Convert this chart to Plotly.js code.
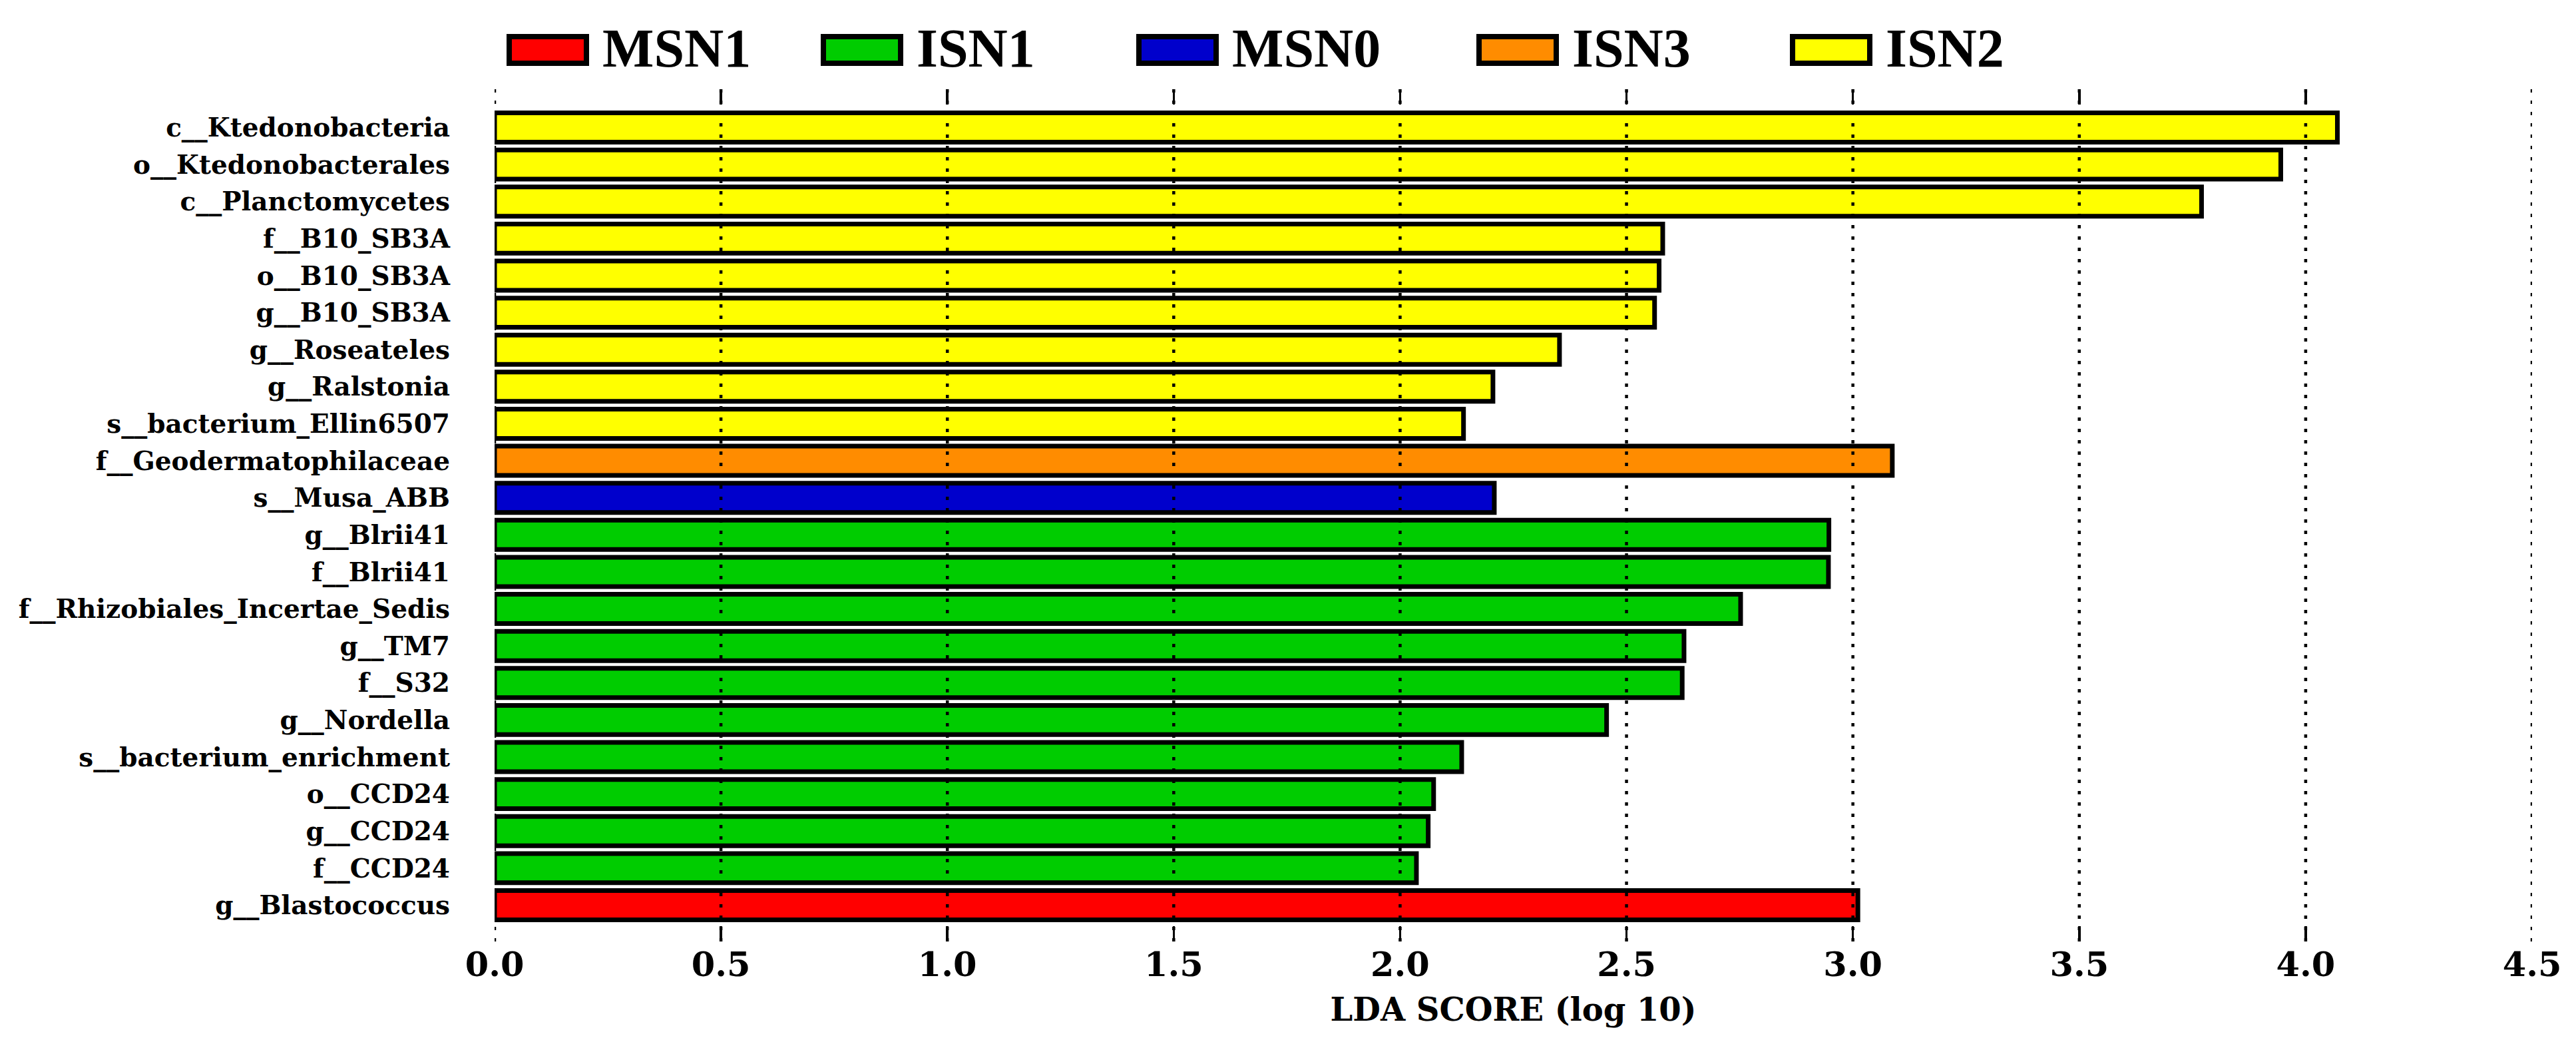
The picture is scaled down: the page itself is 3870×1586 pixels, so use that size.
<!DOCTYPE html>
<html>
<head>
<meta charset="utf-8">
<script src="https://cdn.plot.ly/plotly-3.0.1.min.js"></script>
<style>html,body{margin:0;padding:0;background:#ffffff;}</style>
</head>
<body>
<div id="chart" style="width:3870px;height:1586px;"></div>
<script>
// LEfSe features, listed from the bottom bar to the top bar
const features = [
  "g__Blastococcus", "f__CCD24", "g__CCD24", "o__CCD24", "s__bacterium_enrichment",
  "g__Nordella", "f__S32", "g__TM7", "f__Rhizobiales_Incertae_Sedis", "f__Blrii41",
  "g__Blrii41", "s__Musa_ABB", "f__Geodermatophilaceae", "s__bacterium_Ellin6507",
  "g__Ralstonia", "g__Roseateles", "g__B10_SB3A", "o__B10_SB3A", "f__B10_SB3A",
  "c__Planctomycetes", "o__Ktedonobacterales", "c__Ktedonobacteria"
];
// LDA score (log 10) for each feature
const ldaScores = [
  3.011, 2.036, 2.062, 2.074, 2.136,
  2.456, 2.623, 2.627, 2.752, 2.946,
  2.947, 2.208, 3.087, 2.140,
  2.205, 2.352, 2.562, 2.572, 2.580,
  3.770, 3.945, 4.070
];
// group in which each feature is enriched
const featureGroups = [
  "MSN1", "ISN1", "ISN1", "ISN1", "ISN1",
  "ISN1", "ISN1", "ISN1", "ISN1", "ISN1",
  "ISN1", "MSN0", "ISN3", "ISN2",
  "ISN2", "ISN2", "ISN2", "ISN2", "ISN2",
  "ISN2", "ISN2", "ISN2"
];
const groups = ["MSN1", "ISN1", "MSN0", "ISN3", "ISN2"];
const groupColors = ["#ff0000", "#00cc00", "#0000cc", "#ff8c00", "#ffff00"];
const xTickValues = [0, 0.5, 1, 1.5, 2, 2.5, 3, 3.5, 4, 4.5];
const xTickLabels = ["0.0", "0.5", "1.0", "1.5", "2.0", "2.5", "3.0", "3.5", "4.0", "4.5"];

// page geometry (pixels)
const W = 3870, H = 1586;
const M = {l: 743, r: 66, t: 134, b: 172};
const plotW = W - M.l - M.r, plotH = H - M.t - M.b;
const px = x => (x - M.l) / plotW;           // page x -> paper x
const py = y => (H - M.b - y) / plotH;       // page y -> paper y

const serif = "DejaVu Serif, serif";

// one horizontal bar trace per group
const traces = groups.map((g, gi) => {
  const ys = [], xs = [];
  features.forEach((f, i) => {
    if (featureGroups[i] === g) { ys.push(f); xs.push(ldaScores[i]); }
  });
  return {
    type: "bar", orientation: "h", name: g,
    x: xs, y: ys,
    marker: {color: groupColors[gi], line: {color: "#000000", width: 7}},
    showlegend: false, hoverinfo: "x+y"
  };
});

// dashed vertical guides drawn over the bars
const shapes = xTickValues.map(v => ({
  type: "line", xref: "x", yref: "paper", x0: v, x1: v, y0: 0, y1: 1,
  layer: "above", line: {color: "#000000", width: 4.5, dash: "5px,12px"}
}));

// legend: wide coloured boxes with bold labels
const legendLeft = [761, 1233, 1707, 2218, 2689];
const boxW = 124, boxH = 48, boxTop = 51, lw = 8;
const annotations = [];
groups.forEach((g, gi) => {
  const x0 = legendLeft[gi];
  shapes.push({
    type: "rect", xref: "paper", yref: "paper",
    x0: px(x0 + lw / 2), x1: px(x0 + boxW - lw / 2),
    y0: py(boxTop + boxH - lw / 2), y1: py(boxTop + lw / 2),
    fillcolor: groupColors[gi], line: {color: "#000000", width: lw}, layer: "above"
  });
  annotations.push({
    xref: "paper", yref: "paper", x: px(x0 + boxW + 18), y: py(72),
    xanchor: "left", yanchor: "middle", showarrow: false, text: g,
    font: {family: "Liberation Serif, serif", size: 82, color: "#000000", weight: 700}
  });
});

const layout = {
  width: W, height: H,
  margin: M,
  paper_bgcolor: "#ffffff", plot_bgcolor: "#ffffff",
  barmode: "overlay", bargap: 0.21,
  font: {family: serif, color: "#000000"},
  xaxis: {
    range: [0, 4.5], tickmode: "array", tickvals: xTickValues, ticktext: xTickLabels,
    ticks: "inside", ticklen: 23, tickwidth: 3.5, tickcolor: "#000000", mirror: "ticks",
    showline: false, showgrid: false, zeroline: false,
    tickfont: {family: serif, size: 51, color: "#000000", weight: 700},
    title: {text: "LDA SCORE (log 10)", font: {family: serif, size: 48, color: "#000000", weight: 700}, standoff: 22}
  },
  yaxis: {
    type: "category", categoryorder: "array", categoryarray: features,
    range: [-0.98, 22.034],
    ticks: "", showline: false, showgrid: false, zeroline: false,
    ticklabelstandoff: 66,
    tickfont: {family: serif, size: 39, color: "#000000", weight: 700}
  },
  shapes: shapes,
  annotations: annotations
};

Plotly.newPlot("chart", traces, layout, {displayModeBar: false, staticPlot: true});
</script>
</body>
</html>
